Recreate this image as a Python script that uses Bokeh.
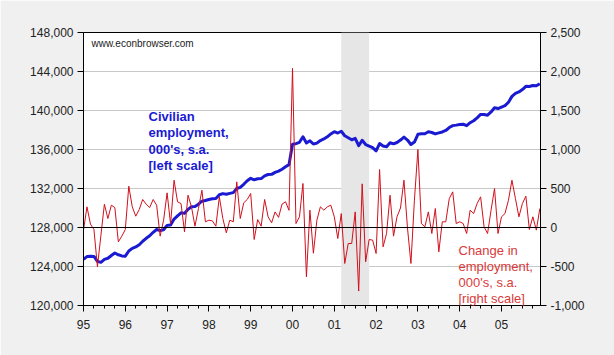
from bokeh.plotting import figure
from bokeh.models import Range1d, LinearAxis, FixedTicker, NumeralTickFormatter, BoxAnnotation, Span, Label
from bokeh.embed import file_html
from bokeh.resources import INLINE

# ---------------- data ----------------
start_year = 1995

# Civilian employment, thousands, s.a. (monthly, Jan 1995 - Dec 2005) [left scale]
employment = [
    124750, 125015, 125058, 125032, 124528, 124428, 124727, 124842, 125128, 125384, 125200, 125089,
    125063, 125593, 125858, 126003, 126233, 126592, 126891, 127147, 127506, 127792, 127681, 127775,
    128219, 128262, 128868, 129197, 129504, 129449, 129863, 130128, 130145, 130388, 130700, 130773,
    130867, 130952, 130969, 131362, 131477, 131409, 131503, 131576, 132000, 132115, 132431, 132790,
    133050, 132896, 132998, 133015, 133300, 133437, 133450, 133650, 133780, 133980, 134230, 134450,
    136550, 136601, 136738, 137302, 136670, 136892, 136562, 136656, 136921, 137080, 137300, 137600,
    137831, 137690, 137869, 137408, 137203, 136998, 137150, 136391, 136951, 136511, 136357, 136195,
    135862, 136605, 136357, 136280, 136694, 136583, 136720, 136970, 137270, 136970, 136509, 136759,
    137559, 137610, 137619, 137819, 137742, 137600, 137700, 137800, 137950, 138250, 138450, 138500,
    138560, 138590, 138450, 138750, 138950, 139250, 139600, 139580, 139520, 139850, 140280, 140200,
    140350, 140500, 140850, 141450, 141750, 141900, 142150, 142480, 142460, 142560, 142530, 142750,
]

# Monthly change in employment, thousands, s.a. [right scale]
change = [
    -34, 265, 43, -26, -504, -100, 299, 115, 286, 256, -184, -111,
    -26, 530, 265, 145, 230, 359, 299, 256, 359, 286, -111, 94,
    444, 43, 606, 329, 307, -55, 414, 265, 17, 243, 478, 73,
    94, 85, 17, 393, 115, -68, 94, 73, 585, 115, 316, 359,
    435, -154, 102, 17, 359, 137, 60, 200, 130, 300, 330, 220,
    2040, 51, 137, 564, -632, 222, -330, 94, 265, 222, 265, 286,
    137, -141, 179, -461, -205, -205, 200, -815, 560, -440, -154, -162,
    -333, 743, -248, -77, 414, -111, 137, 250, 606, 0, -461, 350,
    1000, 51, 9, 200, -77, 243, -312, 73, 73, 370, 457, 51,
    73, 51, -77, 222, 179, 307, 393, 9, -77, 222, 500, -77,
    137, 179, 350, 606, 371, 137, 307, 401, -26, 137, -34, 243,
]

year_ticks = list(range(1995, 2006))
year_labels = ["95", "96", "97", "98", "99", "00", "01", "02", "03", "04", "05"]
left_ticks = list(range(120000, 148001, 4000))
right_ticks = list(range(-1000, 2501, 500))
recession_start = 2001 + 2 / 12   # Mar 2001
recession_end = 2001 + 10 / 12    # Nov 2001

left_note = ["Civilian", "employment,", "000's, s.a.", "[left scale]"]
right_note = ["Change in", "employment,", "000's, s.a.", "[right scale]"]
source_note = "www.econbrowser.com"

# ---------------- figure ----------------
x_years = [start_year + i / 12 for i in range(len(employment))]

BLUE = "#1a1ad2"
RED = "#d0101c"
FONT = "Liberation Sans"

p = figure(width=614, height=355, output_backend="svg", toolbar_location=None,
           x_range=Range1d(1995, 2005.933), y_range=Range1d(120000, 148000),
           min_border_left=83, min_border_right=74, min_border_top=32, min_border_bottom=50,
           background_fill_color="white", border_fill_color="#f0f0f0",
           outline_line_color="black", outline_line_width=1)

p.add_layout(BoxAnnotation(left=recession_start, right=recession_end,
                           fill_color="#e6e6e6", fill_alpha=1.0, line_alpha=0,
                           level="underlay"))

# x axis
minor = [y + q / 4 for y in range(1995, 2006) for q in range(4)]
p.xaxis.ticker = FixedTicker(ticks=year_ticks, minor_ticks=minor)
p.xaxis.major_label_overrides = {t: l for t, l in zip(year_ticks, year_labels)}
p.xgrid.visible = False

# left axis
p.yaxis.ticker = FixedTicker(ticks=left_ticks)
p.yaxis.formatter = NumeralTickFormatter(format="0,0")
p.ygrid.ticker = FixedTicker(ticks=left_ticks)
p.ygrid.grid_line_color = "#c8c8c8"
p.ygrid.grid_line_width = 1

# right axis
p.extra_y_ranges = {"chg": Range1d(-1000, 2500)}
rax = LinearAxis(y_range_name="chg", ticker=FixedTicker(ticks=right_ticks),
                 formatter=NumeralTickFormatter(format="0,0"))
p.add_layout(rax, "right")

for ax in [p.xaxis[0], p.yaxis[0], rax]:
    ax.axis_line_color = "black"
    ax.major_tick_line_color = "black"
    ax.minor_tick_line_color = "black"
    ax.major_tick_in = 0
    ax.major_tick_out = 6
    ax.minor_tick_in = 0
    ax.minor_tick_out = 3
    ax.major_label_text_font = FONT
    ax.major_label_text_font_size = "12px"
    ax.major_label_text_color = "#222222"
p.yaxis[0].major_label_standoff = 4
rax.major_label_standoff = 4
p.xaxis[0].major_label_standoff = 8

p.add_layout(Span(location=128000, dimension="width", line_color="black", line_width=1))

p.line(x_years, employment, line_color=BLUE, line_width=3, line_join="round")
p.line(x_years, change, y_range_name="chg", line_color=RED, line_width=1)

# annotations
p.add_layout(Label(x=1995.19, y=146903, text=source_note, text_font=FONT,
                   text_font_size="10px", text_color="#222222", text_baseline="alphabetic"))

left_y = [139415, 137723, 136031, 134338]
for t, yy in zip(left_note, left_y):
    p.add_layout(Label(x=1996.555, y=yy, text=t, text_font=FONT, text_font_size="13px",
                       text_font_style="bold", text_color=BLUE, text_baseline="alphabetic"))

right_y = [125672, 124031, 122390, 120749]
for t, yy in zip(right_note, right_y):
    p.add_layout(Label(x=2003.971, y=yy, text=t, text_font=FONT, text_font_size="13px",
                       text_color="#d93a3a", text_baseline="alphabetic"))

open("out.html", "w").write(file_html(p, INLINE))
